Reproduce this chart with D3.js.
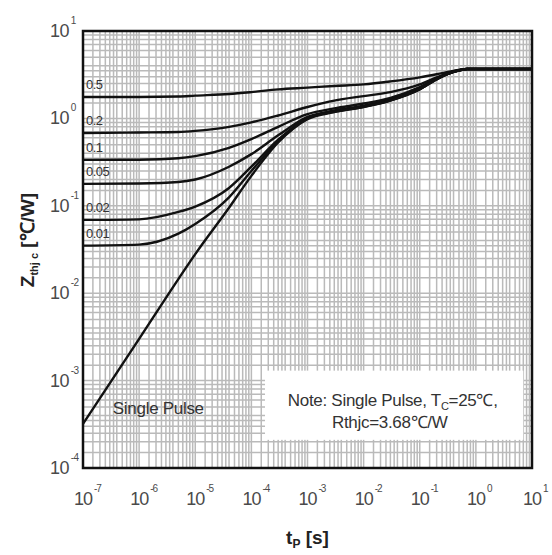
<!DOCTYPE html>
<html>
<head>
<meta charset="utf-8">
<script src="https://cdn.jsdelivr.net/npm/d3@7"></script>
<style>
  body { margin: 0; background: #fff; }
  text { font-family: "Liberation Sans", Arial, sans-serif; }
</style>
</head>
<body>
<div id="chart"></div>
<script>
// pulse width [s]
const tp = [1e-7, 1e-6, 5e-6, 1e-5, 4e-5, 1e-4, 3e-4, 1e-3, 3e-3, 1e-2, 3e-2, 0.1, 0.2, 0.4, 0.7, 10];

// Zthjc [C/W] for each duty cycle, read at the tp points above
const zD05   = [1.76, 1.76, 1.78, 1.82, 1.9, 2.0, 2.15, 2.25, 2.35, 2.45, 2.65, 2.95, 3.2, 3.5, 3.68, 3.68];
const zD02   = [0.68, 0.69, 0.70, 0.72, 0.8, 0.9, 1.08, 1.35, 1.6, 1.8, 2.0, 2.45, 2.95, 3.45, 3.68, 3.68];
const zD01   = [0.335, 0.337, 0.35, 0.37, 0.46, 0.58, 0.8, 1.12, 1.3, 1.48, 1.72, 2.28, 2.87, 3.42, 3.68, 3.68];
const zD005  = [0.178, 0.18, 0.187, 0.2, 0.28, 0.39, 0.64, 1.04, 1.23, 1.4, 1.65, 2.2, 2.83, 3.41, 3.68, 3.68];
const zD002  = [0.069, 0.07, 0.085, 0.098, 0.16, 0.28, 0.57, 1.01, 1.2, 1.37, 1.62, 2.17, 2.81, 3.4, 3.68, 3.68];
const zD001  = [0.035, 0.036, 0.048, 0.062, 0.125, 0.25, 0.55, 1.0, 1.19, 1.36, 1.61, 2.16, 2.8, 3.4, 3.68, 3.68];
const zSingle = [3.2e-4, 3.0e-3, 0.0145, 0.028, 0.095, 0.22, 0.53, 0.98, 1.18, 1.35, 1.6, 2.15, 2.8, 3.4, 3.68, 3.68];

const dutyLabels = ["0.5", "0.2", "0.1", "0.05", "0.02", "0.01"];
const dutySeries = [zD05, zD02, zD01, zD005, zD002, zD001];

const xTickExp = [-7, -6, -5, -4, -3, -2, -1, 0, 1];
const yTickExp = [-4, -3, -2, -1, 0, 1];
const gridMult = [1.5, 2, 2.5, 3, 3.5, 4, 5, 6, 7, 8, 9];

const W = 552, H = 555;
const margin = { top: 31, right: 20, bottom: 87, left: 83 };
const width = W - margin.left - margin.right;
const height = H - margin.top - margin.bottom;

const svg = d3.select("#chart")
    .append("svg")
    .attr("width", W)
    .attr("height", H);

const g = svg.append("g")
    .attr("transform", `translate(${margin.left},${margin.top})`);

const x = d3.scaleLog().domain([1e-7, 10]).range([0, width]);
const y = d3.scaleLog().domain([1e-4, 10]).range([height, 0]);

// background grid
const xGrid = [], yGrid = [];
for (let e = -7; e < 1; e++) {
    xGrid.push(Math.pow(10, e));
    gridMult.forEach(m => xGrid.push(m * Math.pow(10, e)));
}
for (let e = -4; e < 1; e++) {
    yGrid.push(Math.pow(10, e));
    gridMult.forEach(m => yGrid.push(m * Math.pow(10, e)));
}

g.selectAll(".vgrid")
    .data(xGrid)
    .enter()
    .append("line")
    .attr("class", "vgrid")
    .attr("x1", d => x(d)).attr("x2", d => x(d))
    .attr("y1", 0).attr("y2", height)
    .attr("stroke", "#bababa")
    .attr("stroke-width", 1.5);

g.selectAll(".hgrid")
    .data(yGrid)
    .enter()
    .append("line")
    .attr("class", "hgrid")
    .attr("y1", d => y(d)).attr("y2", d => y(d))
    .attr("x1", 0).attr("x2", width)
    .attr("stroke", "#bababa")
    .attr("stroke-width", 1.5);

// note box covers the grid
g.append("rect")
    .attr("x", x(1.75e-4))
    .attr("y", y(1.3e-3))
    .attr("width", x(7) - x(1.75e-4))
    .attr("height", y(2.1e-4) - y(1.3e-3))
    .attr("fill", "#fff");

const line = d3.line()
    .x(d => x(d[0]))
    .y(d => y(d[1]))
    .curve(d3.curveMonotoneX);

const allSeries = dutySeries.concat([zSingle]);
g.selectAll(".curve")
    .data(allSeries)
    .enter()
    .append("path")
    .attr("class", "curve")
    .attr("d", s => line(tp.map((t, i) => [t, s[i]])))
    .attr("fill", "none")
    .attr("stroke", "#111")
    .attr("stroke-width", 2.4);

// duty labels
g.selectAll(".dlabel")
    .data(dutyLabels)
    .enter()
    .append("text")
    .attr("class", "dlabel")
    .attr("x", 3)
    .attr("y", (d, i) => y(dutySeries[i][0]) - 8)
    .attr("font-size", 13)
    .attr("fill", "#333")
    .attr("letter-spacing", -0.5)
    .text(d => d);

g.append("text")
    .attr("x", x(3.4e-7))
    .attr("y", y(4.15e-4))
    .attr("font-size", 17)
    .attr("fill", "#333")
    .attr("letter-spacing", -0.3)
    .text("Single Pulse");

// note text
const noteX = x(3.3e-2);
const note = g.append("text")
    .attr("font-size", 17)
    .attr("fill", "#333")
    .attr("text-anchor", "middle")
    .attr("letter-spacing", -0.3);
const l1 = note.append("tspan").attr("x", noteX).attr("y", y(5.1e-4));
l1.append("tspan").text("Note: Single Pulse, T");
l1.append("tspan").attr("font-size", 11).attr("dy", 4).text("C");
l1.append("tspan").attr("dy", -4).text("=25\u2103,");
note.append("tspan").attr("x", noteX - 3).attr("y", y(2.87e-4)).text("Rthjc=3.68\u2103/W");

// frame
g.append("rect")
    .attr("width", width)
    .attr("height", height)
    .attr("fill", "none")
    .attr("stroke", "#111")
    .attr("stroke-width", 2.5);

// tick labels
const xt = g.selectAll(".xtick")
    .data(xTickExp)
    .enter()
    .append("text")
    .attr("class", "xtick")
    .attr("x", d => x(Math.pow(10, d)) - 9)
    .attr("y", height + 37)
    .attr("font-size", 18)
    .attr("fill", "#4a4a4a")
    .attr("letter-spacing", -1);
xt.append("tspan").text("10");
xt.append("tspan").attr("font-size", 10).attr("dy", -13).attr("dx", 2).text(d => d);

const yt = g.selectAll(".ytick")
    .data(yTickExp)
    .enter()
    .append("text")
    .attr("class", "ytick")
    .attr("x", -33)
    .attr("y", d => y(Math.pow(10, d)) + 6)
    .attr("font-size", 18)
    .attr("fill", "#4a4a4a")
    .attr("letter-spacing", -0.6);
yt.append("tspan").text("10");
yt.append("tspan").attr("font-size", 10).attr("dy", -13).attr("dx", 2).text(d => d);

// axis titles
const xTitle = svg.append("text")
    .attr("x", margin.left + width / 2)
    .attr("y", 544)
    .attr("text-anchor", "middle")
    .attr("font-size", 19)
    .attr("font-weight", "bold")
    .attr("fill", "#222");
xTitle.append("tspan").text("t");
xTitle.append("tspan").attr("font-size", 12).attr("dy", 4).text("P");
xTitle.append("tspan").attr("dy", -4).text(" [s]");

const yTitle = svg.append("text")
    .attr("transform", "translate(34,240) rotate(-90)")
    .attr("text-anchor", "middle")
    .attr("font-size", 19)
    .attr("font-weight", "bold")
    .attr("fill", "#222");
yTitle.append("tspan").text("Z");
yTitle.append("tspan").attr("font-size", 11).attr("dy", 4).text("thj c");
yTitle.append("tspan").attr("dy", -4).text(" [\u2103/W]");
</script>
</body>
</html>
